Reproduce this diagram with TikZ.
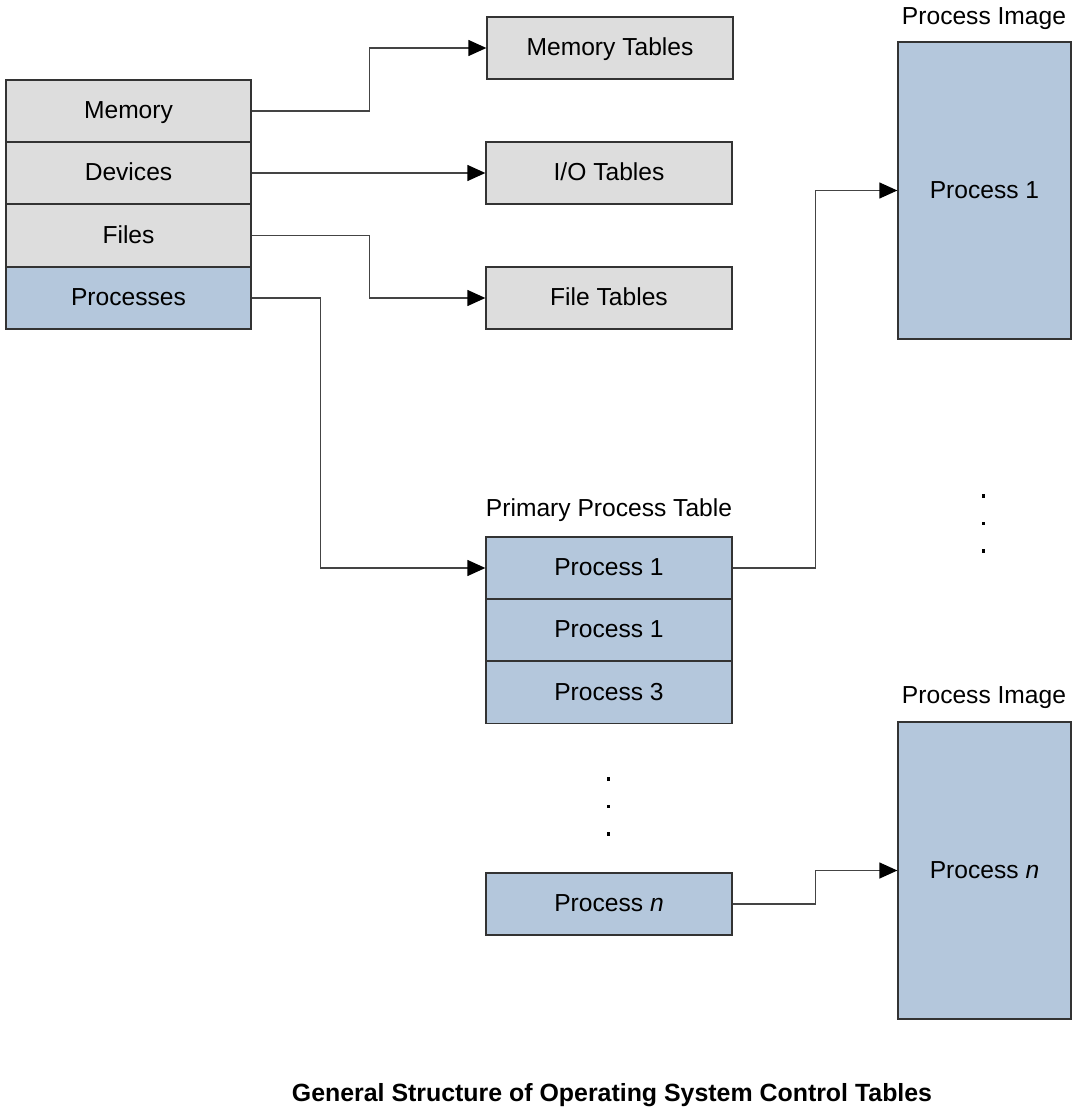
\documentclass[tikz,border=0pt]{standalone}
\usepackage{fontspec}
\setmainfont{Liberation Sans}
\usetikzlibrary{arrows.meta}
\definecolor{boxgrey}{HTML}{DDDDDD}
\definecolor{boxblue}{HTML}{B4C7DC}
\definecolor{edge}{HTML}{333333}
\definecolor{wire}{HTML}{444444}
\begin{document}
\begin{tikzpicture}[x=1pt,y=-1pt,
  every node/.style={font=\fontsize{24.6}{28}\selectfont, inner sep=0pt, text height=17.6pt, text depth=2.6pt},
  cell/.style={draw=edge, line width=1.3pt, minimum width=246pt, minimum height=62pt},
  gcell/.style={cell, fill=boxgrey},
  bcell/.style={cell, fill=boxblue},
  imgbox/.style={draw=edge, line width=1.3pt, fill=boxblue, minimum width=173pt, minimum height=297pt},
  conn/.style={draw=wire, line width=1.3pt, -{Triangle[length=18pt,width=16pt,color=black]}},
  dotm/.style={fill=black, minimum size=3.2pt, inner sep=0pt, text height=, text depth=}
]
\useasboundingbox (0,0) rectangle (1076,1111);

% left table
\node[gcell, minimum width=245pt] (mem) at (128.5,111) {Memory};
\node[gcell, minimum width=245pt] (dev) at (128.5,173) {Devices};
\node[gcell, minimum width=245pt] (fil) at (128.5,235.5) {Files};
\node[bcell, minimum width=245pt] (proc) at (128.5,298) {Processes};

% tables
\node[gcell] (memt) at (610,48) {Memory Tables};
\node[gcell] (iot) at (609,173) {I/O Tables};
\node[gcell] (filt) at (609,298) {File Tables};

% primary process table
\node (pptl) at (609,509) {Primary Process Table};
\node[bcell] (pp1) at (609,568) {Process 1};
\node[bcell] (pp2) at (609,630) {Process 1};
\node[bcell] (pp3) at (609,692.5) {Process 3};
\node[dotm] (pd1) at (608.5,779) {};
\node[dotm] (pd2) at (608.5,806.5) {};
\node[dotm] (pd3) at (608.5,834) {};
\node[bcell] (ppn) at (609,904) {Process \textit{n}};

% process images
\node (il1) at (984,17) {Process Image};
\node[imgbox] (img1) at (984.5,190.5) {Process 1};
\node[dotm] (id1) at (983.5,496) {};
\node[dotm] (id2) at (983.5,523.5) {};
\node[dotm] (id3) at (983.5,551) {};
\node (il2) at (984,696) {Process Image};
\node[imgbox] (imgn) at (984.5,870.5) {Process \textit{n}};

% connectors
\draw[conn] (mem.east) -- ++(118,0) |- (memt.west);
\draw[conn] (dev.east) -- (iot.west);
\draw[conn] (fil.east) -- ++(118,0) |- (filt.west);
\draw[conn] (proc.east) -- ++(69,0) |- (pp1.west);
\draw[conn] (pp1.east) -- ++(83,0) |- (img1.west);
\draw[conn] (ppn.east) -- ++(83,0) |- (imgn.west);

% caption
\node[font=\fontsize{24.9}{28}\selectfont\bfseries] (cap) at (612,1094) {General Structure of Operating System Control Tables};
\end{tikzpicture}
\end{document}
